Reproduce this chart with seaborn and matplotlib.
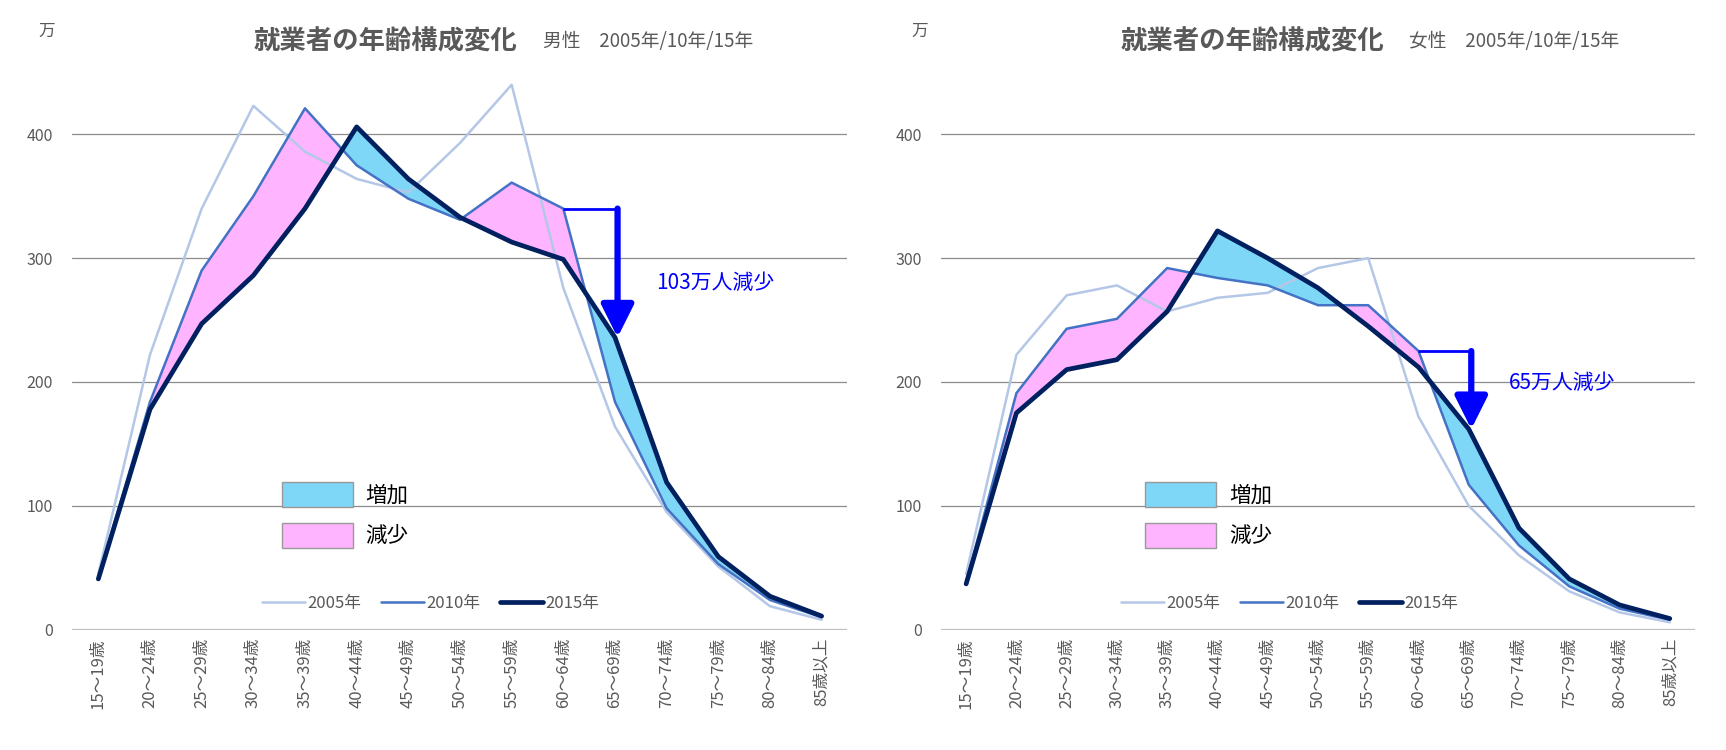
import numpy as np
import pandas as pd
import matplotlib
matplotlib.use("Agg")
import matplotlib.pyplot as plt
from matplotlib.patches import Patch
from matplotlib.lines import Line2D
import seaborn as sns

# ---------------- data ----------------
categories = ["15～19歳", "20～24歳", "25～29歳", "30～34歳", "35～39歳", "40～44歳",
              "45～49歳", "50～54歳", "55～59歳", "60～64歳", "65～69歳", "70～74歳",
              "75～79歳", "80～84歳", "85歳以上"]
years = ["2005年", "2010年", "2015年"]

male_2005 = [45, 222, 340, 423, 386, 364, 353, 393, 440, 276, 164, 95, 51, 19, 8]
male_2010 = [42, 184, 290, 350, 421, 375, 348, 331, 361, 340, 184, 98, 53, 24, 10]
male_2015 = [41, 178, 247, 286, 340, 406, 364, 333, 313, 299, 236, 119, 59, 27, 11]

female_2005 = [45, 222, 270, 278, 257, 268, 272, 292, 300, 172, 100, 60, 31, 14, 6]
female_2010 = [38, 191, 243, 251, 292, 284, 278, 262, 262, 225, 117, 68, 35, 17, 8]
female_2015 = [37, 175, 210, 218, 257, 322, 300, 276, 245, 212, 162, 82, 41, 20, 9]

male_label = "103万人減少"
female_label = "65万人減少"
subtitles = ["男性　2005年/10年/15年", "女性　2005年/10年/15年"]
title = "就業者の年齢構成変化"
yticks = [0, 100, 200, 300, 400]

# ---------------- style ----------------
sns.set_theme(style="white")
plt.rcParams["font.family"] = ["Noto Sans CJK JP", "DejaVu Sans"]

line_colors = {"2005年": "#b4c7e7", "2010年": "#4472c4", "2015年": "#002060"}
line_widths = {"2005年": 1.8, "2010年": 1.8, "2015年": 3.4}
inc_color = "#7fd7f7"
dec_color = "#ffb4ff"
grey = "#595959"

fig = plt.figure(figsize=(17.26, 7.5), dpi=100)
ax_l = fig.add_axes([0.042, 0.1604, 0.449, 0.7431])
ax_r = fig.add_axes([0.5452, 0.1604, 0.4368, 0.7431])

panels = [
    (ax_l, [male_2005, male_2010, male_2015], male_label, subtitles[0],
     (0.300, 0.3146), 0.0223, -8),
    (ax_r, [female_2005, female_2010, female_2015], female_label, subtitles[1],
     (0.8019, 0.8163), 0.528, 6),
]

for ax, series, alabel, sub, (tx, sx), wx, toff in panels:
    df = pd.DataFrame({
        "age": categories * 3,
        "value": series[0] + series[1] + series[2],
        "year": [years[0]] * 15 + [years[1]] * 15 + [years[2]] * 15,
    })
    x = np.arange(len(categories))
    y10 = np.array(series[1], dtype=float)
    y15 = np.array(series[2], dtype=float)

    # gridlines
    for t in yticks[1:]:
        ax.axhline(t, color="#8c8c8c", lw=0.9, zorder=0)
    ax.axhline(0, color="#bfbfbf", lw=1.6, zorder=0)

    # fills between 2010 and 2015
    ax.fill_between(x, y10, y15, where=y15 >= y10, interpolate=True,
                    color=inc_color, zorder=1, lw=0)
    ax.fill_between(x, y10, y15, where=y10 >= y15, interpolate=True,
                    color=dec_color, zorder=1, lw=0)

    for yr in years:
        sns.lineplot(data=df[df["year"] == yr], x="age", y="value", ax=ax,
                     color=line_colors[yr], lw=line_widths[yr], sort=False,
                     zorder=3 if yr != "2005年" else 2, legend=False)

    ax.set_xlim(-0.5, len(categories) - 0.5)
    ax.set_ylim(0, 450)
    ax.set_yticks(yticks)
    ax.set_xticks(x)
    ax.set_xticklabels(categories, rotation=90, va="top", ha="center",
                       fontsize=12, color=grey)
    ax.tick_params(axis="y", labelsize=11.5, labelcolor=grey, pad=14, length=0)
    ax.tick_params(axis="x", pad=6, length=0)
    ax.set_xlabel("")
    ax.set_ylabel("")
    for s in ax.spines.values():
        s.set_visible(False)

    # arrow annotation from 60-64 (2010) down to 65-69 (2015)
    ax_x = 10.05
    ax.plot([9, ax_x], [y10[9], y10[9]], color="#0000ff", lw=2, zorder=4,
            solid_capstyle="butt")
    ax.annotate("", xy=(ax_x, y15[10]), xytext=(ax_x, y10[9]),
                arrowprops=dict(arrowstyle="-|>,head_length=0.9,head_width=0.45",
                                color="#0000ff", lw=4.5, shrinkA=0, shrinkB=0,
                                mutation_scale=22), zorder=5)
    ax.text(ax_x + 0.75, (y10[9] + y15[10]) / 2 + toff, alabel, color="#0000ff",
            fontsize=15, va="center", ha="left")

    # line legend
    handles = [Line2D([0], [0], color=line_colors[y], lw=line_widths[y]) for y in years]
    leg1 = ax.legend(handles, years, loc="center", bbox_to_anchor=(0.462, 0.047),
                     ncol=3, frameon=False, fontsize=12, handlelength=2.6,
                     columnspacing=1.2, handletextpad=0.1, labelcolor=grey)
    ax.add_artist(leg1)

    # fill legend
    ph = [Patch(facecolor=inc_color, edgecolor="#999999", lw=1),
          Patch(facecolor=dec_color, edgecolor="#999999", lw=1)]
    ax.legend(ph, ["増加", "減少"], loc="upper left", bbox_to_anchor=(0.245, 0.30),
              frameon=False, fontsize=15.5, handlelength=3.3, handleheight=1.4,
              labelspacing=0.75, handletextpad=0.6, labelcolor="black")

    fig.text(tx, 0.944, title, fontsize=19, fontweight="bold", color=grey,
             ha="right", va="center")
    fig.text(sx, 0.944, sub, fontsize=13.5, color=grey, ha="left", va="center")
    fig.text(wx, 0.958, "万", fontsize=12, color=grey, ha="left", va="center")

fig.savefig("out.png", dpi=100)
